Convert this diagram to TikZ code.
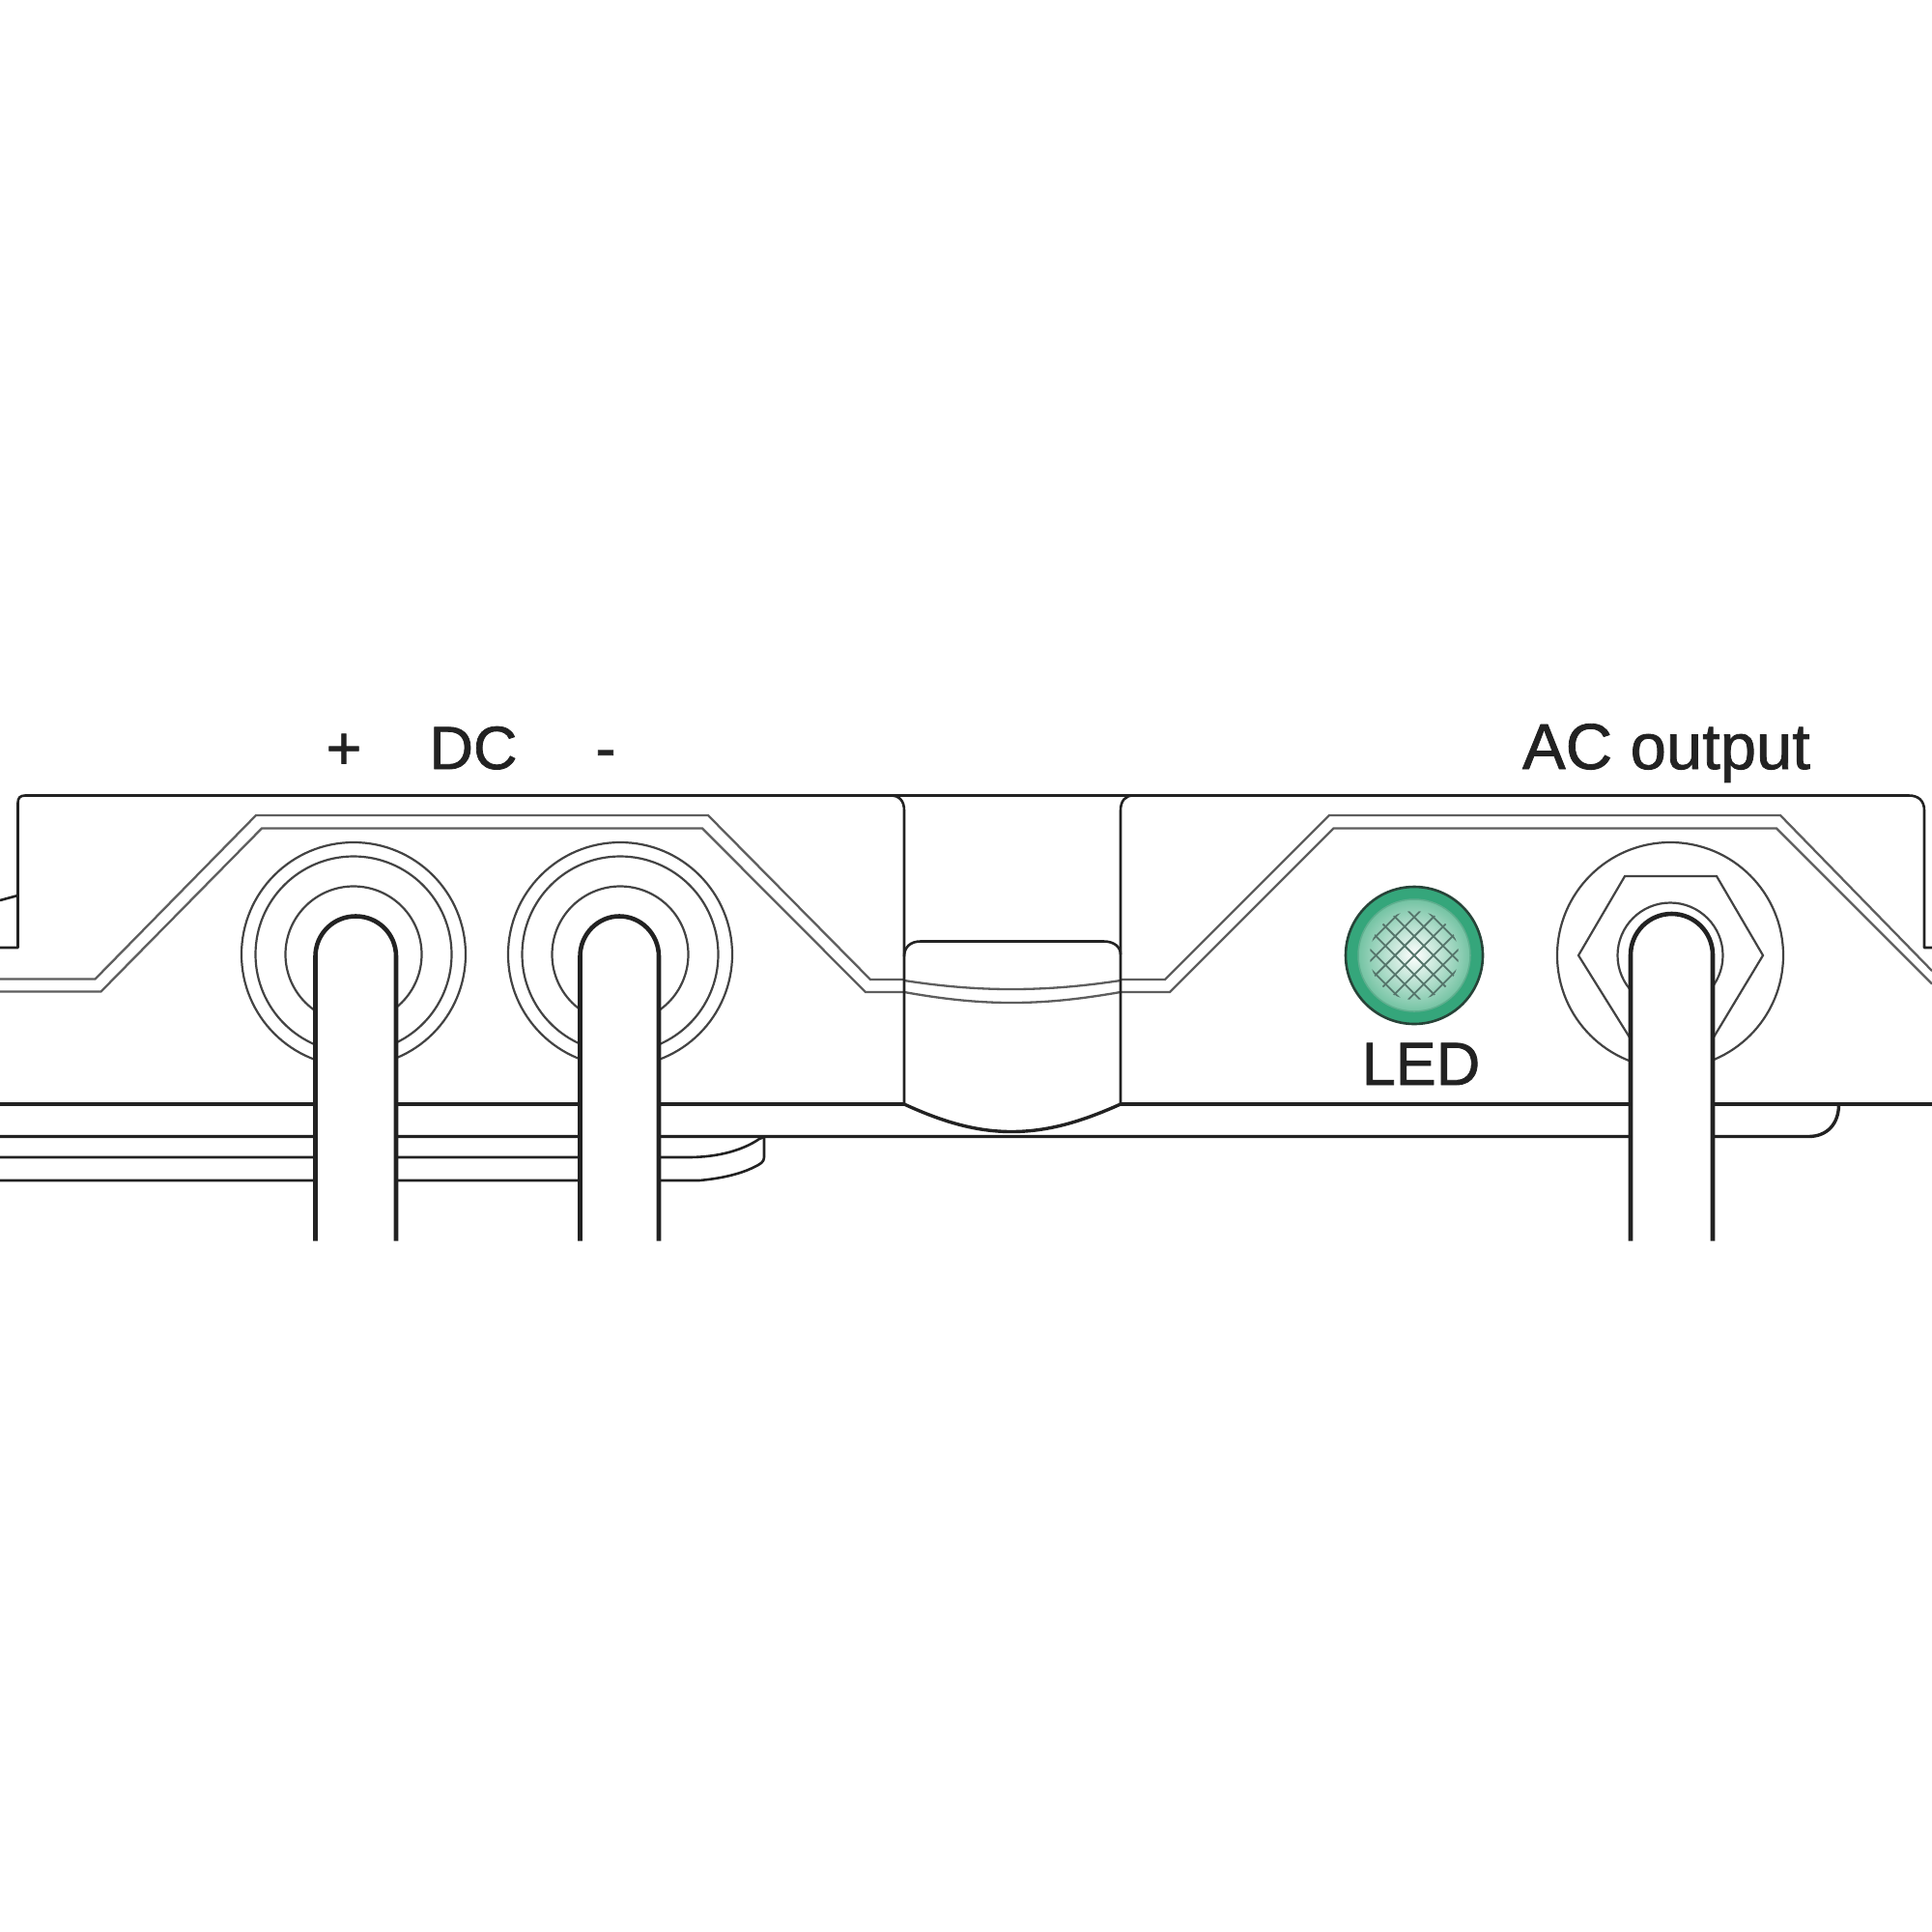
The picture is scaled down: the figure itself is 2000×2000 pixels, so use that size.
\documentclass[tikz,border=0pt]{standalone}
\usepackage{fontspec}
\setmainfont{Liberation Sans}
\newfontfamily\lblfont[FakeBold=1.2]{Liberation Sans}
\definecolor{ink}{HTML}{222222}
\definecolor{soft}{HTML}{5E5E5E}
\definecolor{ledouter}{HTML}{35A67B}
\definecolor{ledinner}{HTML}{74C3A3}
\definecolor{ledring}{HTML}{5FAF8F}
\definecolor{meshc}{HTML}{55756B}
\tikzset{
  body/.style={draw=ink,line width=2.6pt,line join=round},
  edge2/.style={draw=soft,line width=2.3pt,line join=miter},
  ringline/.style={draw=ink!85,line width=2.2pt},
  wire/.style={draw=ink,line width=4.6pt,fill=white,line join=round},
  heavy/.style={draw=ink,line width=3.4pt},
  lbl/.style={font=\lblfont\fontsize{63}{70}\selectfont,text=ink,inner sep=0pt,anchor=base}
}
\begin{document}
\begin{tikzpicture}[x=1pt,y=-1pt]
\useasboundingbox (0,0) rectangle (2000,2000);
% housing outline
\draw[body] (0,981) -- (18.5,981) -- (18.5,831) .. controls (18.5,826) and (21,823.5) .. (26,823.5)
  -- (1976,823.5) .. controls (1986,823.5) and (1992,829) .. (1992,839) -- (1992,981) -- (2000,981);
\draw[body] (0,932) -- (18.5,927);
\draw[heavy] (861,823.5) -- (922,823.5);
\draw[heavy] (1173,823.5) -- (1232,823.5);
% double bevel
\draw[edge2] (0,1013.5) -- (98.5,1013.5) -- (265,844) -- (733,844) -- (901,1014) -- (936,1014);
\draw[edge2] (0,1026.5) -- (104.5,1026.5) -- (271,857.5) -- (727,857.5) -- (896,1027) -- (936,1027);
\draw[edge2] (1160,1014) -- (1206,1014) -- (1376,844) -- (1843,844) -- (2000,1005);
\draw[edge2] (1160,1027) -- (1211,1027) -- (1380.5,857.5) -- (1839,857.5) -- (2000,1018.5);
\draw[edge2] (936,1015) .. controls (975,1021) and (1010,1024) .. (1047,1024) .. controls (1085,1024) and (1120,1021) .. (1160,1015);
\draw[edge2] (936,1027) .. controls (975,1034) and (1010,1038) .. (1047,1038) .. controls (1085,1038) and (1120,1034) .. (1160,1027);
% centre clip
\draw[body] (922,823.5) .. controls (931,823.5) and (936,829) .. (936,839) -- (936,1143);
\draw[body] (1173,823.5) .. controls (1165,823.5) and (1160,829) .. (1160,839) -- (1160,1143);
\draw[body] (936,990) .. controls (936,980) and (943,974.5) .. (953,974.5) -- (1142.5,974.5) .. controls (1153,974.5) and (1160,980) .. (1160,988);
\draw[heavy] (936,1143) .. controls (975,1161) and (1010,1171.5) .. (1047,1171.5) .. controls (1085,1171.5) and (1120,1161) .. (1160,1143);
% base lines
\draw[heavy] (0,1143) -- (936,1143);
\draw[heavy] (1160,1143) -- (2000,1143);
\draw[heavy] (0,1176.5) -- (1872,1176.5) .. controls (1891,1176.5) and (1903.5,1164) .. (1903.5,1143);
\draw[body] (0,1198) -- (712,1198) .. controls (745,1198) and (770,1190) .. (786,1179) -- (791,1177);
\draw[body] (0,1222) -- (724,1222) .. controls (745,1220) and (765,1216) .. (781,1208) .. controls (787,1205) and (791,1203) .. (791,1198) -- (791,1177);
% DC terminals
\node[circle,ringline,minimum size=232pt,inner sep=0pt] (ringAo) at (366,988) {};
\node[circle,ringline,minimum size=203pt,inner sep=0pt] (ringAm) at (366,988) {};
\node[circle,ringline,minimum size=141pt,inner sep=0pt] (ringAi) at (366,988) {};
\node[circle,ringline,minimum size=232pt,inner sep=0pt] (ringBo) at (642,988) {};
\node[circle,ringline,minimum size=203pt,inner sep=0pt] (ringBm) at (642,988) {};
\node[circle,ringline,minimum size=141pt,inner sep=0pt] (ringBi) at (642,988) {};
% AC terminal
\node[circle,ringline,minimum size=234pt,inner sep=0pt] (ringCo) at (1729,989) {};
\node[circle,ringline,minimum size=109pt,inner sep=0pt] (ringCi) at (1729,989) {};
\draw[ringline] (1692,1082) -- (1634,989) -- (1682,907) -- (1777,907) -- (1825,989) -- (1769,1082);
% wires
\draw[wire] (326.5,1284.5) -- (326.5,990) .. controls (326.5,967) and (345,948.5) .. (368.2,948.5) .. controls (391.5,948.5) and (410,967) .. (410,990) -- (410,1284.5);
\draw[wire] (600.5,1284.5) -- (600.5,990) .. controls (600.5,967) and (619,948.5) .. (641.2,948.5) .. controls (663.5,948.5) and (682,967) .. (682,990) -- (682,1284.5);
\draw[wire] (1688,1284.5) -- (1688,988.5) .. controls (1688,965) and (1707,946) .. (1730.5,946) .. controls (1754,946) and (1773,965) .. (1773,988.5) -- (1773,1284.5);
% LED
\fill[ledouter] (1464,989) circle[radius=71];
\draw[ink!75!ledouter,line width=2.6pt] (1464,989) circle[radius=71];
\shade[inner color=white,outer color=ledinner] (1464,989) circle[radius=58];
\draw[ledring,line width=1.5pt] (1464,989) circle[radius=58];
\begin{scope}
  \clip (1464,989) circle[radius=46];
  \begin{scope}[shift={(1464,989)},rotate=45]
    \foreach \d in {-42,-28,-14,0,14,28,42} {
      \draw[meshc,line width=1.8pt] (\d,-50) -- (\d,50);
      \draw[meshc,line width=1.8pt] (-50,\d) -- (50,\d);
    }
  \end{scope}
\end{scope}
% labels
\node[lbl] (plus) at (356,796) {+};
\node[lbl] (dc) at (490,796) {DC};
\node[lbl] (minus) at (627,796) {-};
\node[lbl,font=\lblfont\fontsize{67}{70}\selectfont] (ac) at (1725,796) {AC output};
\node[lbl] (led) at (1471,1123) {LED};
\end{tikzpicture}
\end{document}
